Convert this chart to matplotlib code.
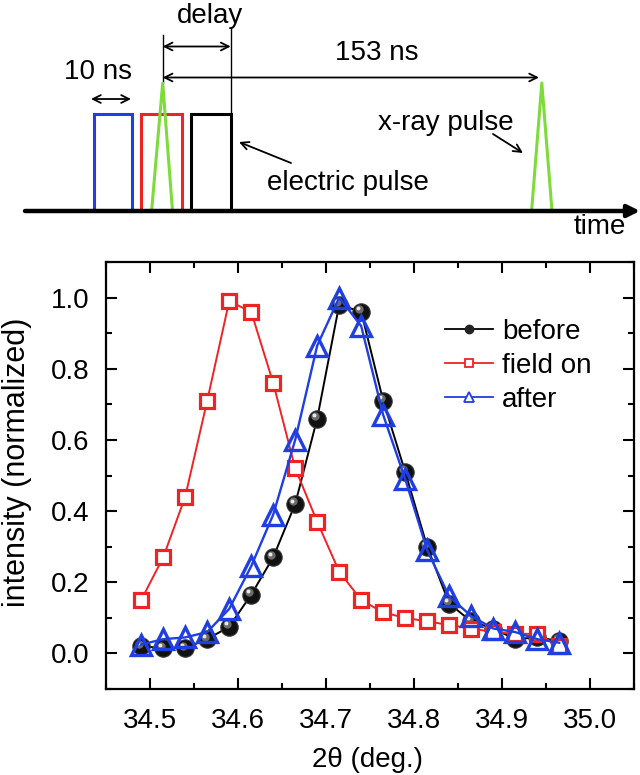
import matplotlib
matplotlib.use('Agg')
import matplotlib.pyplot as plt
from matplotlib.ticker import MultipleLocator, FormatStrFormatter
from matplotlib.lines import Line2D
import matplotlib.transforms as mtransforms

plt.rcParams['font.family'] = ['Liberation Sans', 'DejaVu Sans']

# ---------------- data ----------------
two_theta = [34.490, 34.515, 34.540, 34.565, 34.590, 34.615, 34.640, 34.665,
             34.690, 34.715, 34.740, 34.765, 34.790, 34.815, 34.840, 34.865,
             34.890, 34.915, 34.940, 34.965]
before = [0.02, 0.015, 0.015, 0.04, 0.075, 0.165, 0.27, 0.42, 0.66, 0.98,
          0.96, 0.71, 0.51, 0.30, 0.14, 0.09, 0.07, 0.04, 0.045, 0.035]
field_on = [0.15, 0.27, 0.44, 0.71, 0.99, 0.96, 0.76, 0.52, 0.37, 0.23,
            0.15, 0.115, 0.10, 0.09, 0.08, 0.07, 0.06, 0.055, 0.055, 0.02]
after = [0.025, 0.04, 0.045, 0.06, 0.125, 0.245, 0.39, 0.60, 0.865, 1.0,
         0.92, 0.67, 0.49, 0.29, 0.16, 0.105, 0.07, 0.06, 0.04, 0.03]
series_labels = ['before', 'field on', 'after']
x_ticks = [34.5, 34.6, 34.7, 34.8, 34.9, 35.0]
y_ticks = [0.0, 0.2, 0.4, 0.6, 0.8, 1.0]

RED = '#ee2424'
BLUE = '#1f3fe0'
GREEN = '#7ddc3c'
FS = 20

fig = plt.figure(figsize=(6.4, 7.75), dpi=100)

# ---------------- timing diagram (pixel coordinates) ----------------
axd = fig.add_axes([0, 1 - 240 / 775, 1, 240 / 775])
axd.set_xlim(0, 640)
axd.set_ylim(240, 0)
axd.axis('off')

base_y = 211
rect_top = 114
pulses = [(94, 132, BLUE), (141, 181.5, RED), (190.5, 230.5, 'black')]
for x0, x1, c in pulses:
    axd.plot([x0, x0, x1, x1], [base_y, rect_top, rect_top, base_y], color=c,
             lw=2.2, solid_joinstyle='miter', zorder=3)
xray = [(151.6, 162.7, 172.5), (531.6, 541.8, 552.0)]
for a, b, c in xray:
    axd.plot([a, b, c], [base_y, 83, base_y], color=GREEN, lw=2.2, zorder=4)

axd.annotate('', xy=(640, base_y), xytext=(25, base_y),
             arrowprops=dict(arrowstyle='-|>', lw=3.2, color='black',
                             mutation_scale=18, shrinkA=0, shrinkB=0), zorder=5)
axd.plot([230.7, 230.7], [28, rect_top], color='black', lw=1.0)
axd.plot([162.7, 162.7], [35, 83], color='black', lw=1.0)
arr = dict(arrowstyle='<->', lw=1.3, color='black', mutation_scale=14,
           shrinkA=0, shrinkB=0)
axd.annotate('', xy=(230.7, 46.5), xytext=(162.7, 46.5), arrowprops=arr)
axd.annotate('', xy=(539, 77.5), xytext=(162.7, 77.5), arrowprops=arr)
axd.annotate('', xy=(131, 99), xytext=(91, 99), arrowprops=arr)
arr1 = dict(arrowstyle='->', lw=1.3, color='black', mutation_scale=14,
            shrinkA=0, shrinkB=0)
axd.annotate('', xy=(239, 142), xytext=(291, 163), arrowprops=arr1)
axd.annotate('', xy=(523, 153), xytext=(493, 134), arrowprops=arr1)

axd.text(210, 16, 'delay', fontsize=FS, ha='center', va='center')
axd.text(377, 53, '153 ns', fontsize=FS, ha='center', va='center')
axd.text(98, 72, '10 ns', fontsize=FS, ha='center', va='center')
axd.text(348, 183, 'electric pulse', fontsize=FS, ha='center', va='center')
axd.text(446, 123, 'x-ray pulse', fontsize=FS, ha='center', va='center')
axd.text(600, 227, 'time', fontsize=FS, ha='center', va='center')

# ---------------- diffraction plot ----------------
ax = fig.add_axes([106 / 640, 1 - 689 / 775, (634 - 106) / 640, (689 - 262) / 775])

ax.plot(two_theta, before, color='black', lw=1.4, marker='o', ms=12.5,
        mfc='#111111', mec='#333333', mew=0.8, zorder=3)
# sphere highlight
off1 = mtransforms.offset_copy(ax.transData, fig=fig, x=-1.5, y=1.8, units='points')
off2 = mtransforms.offset_copy(ax.transData, fig=fig, x=-2.0, y=2.4, units='points')
ax.plot(two_theta, before, ls='none', marker='o', ms=6, mfc='#6a6a6a', mec='none',
        transform=off1, zorder=3.1)
ax.plot(two_theta, before, ls='none', marker='o', ms=2.8, mfc='#e8e8e8', mec='none',
        transform=off2, zorder=3.2)

ax.plot(two_theta, field_on, color=RED, lw=1.4, marker='s', ms=10, mfc='white',
        mec=RED, mew=2.3, zorder=4)
ax.plot(two_theta, after, color=BLUE, lw=1.7, marker='^', ms=14, mfc='none',
        mec=BLUE, mew=2.4, zorder=5)

ax.set_xlim(34.45, 35.05)
ax.set_ylim(-0.1, 1.1)
ax.set_xticks(x_ticks)
ax.set_yticks(y_ticks)
ax.xaxis.set_minor_locator(MultipleLocator(0.05))
ax.yaxis.set_minor_locator(MultipleLocator(0.1))
ax.xaxis.set_major_formatter(FormatStrFormatter('%.1f'))
ax.yaxis.set_major_formatter(FormatStrFormatter('%.1f'))
ax.tick_params(which='both', direction='in', top=True, right=True, width=1.5,
               labelsize=FS)
ax.tick_params(axis='x', which='major', pad=14)
ax.tick_params(axis='y', which='major', pad=12)
ax.tick_params(which='major', length=8)
ax.tick_params(which='minor', length=4.5)
for s in ax.spines.values():
    s.set_linewidth(1.6)
ax.set_xlabel('2θ (deg.)', fontsize=FS)
ax.set_ylabel('intensity (normalized)', fontsize=22)
ax.xaxis.set_label_coords(0.496, -0.136)
ax.yaxis.set_label_coords(-0.14, 0.532)

handles = [
    Line2D([], [], color='black', lw=1.3, marker='o', ms=6, mfc='#222222', mec='#222222'),
    Line2D([], [], color=RED, lw=1.3, marker='s', ms=5.5, mfc='white', mec=RED, mew=1.3),
    Line2D([], [], color=BLUE, lw=1.3, marker='^', ms=6.5, mfc='white', mec=BLUE, mew=1.3),
]
ax.legend(handles, series_labels, loc='upper left', bbox_to_anchor=(0.642, 0.866),
          frameon=False, fontsize=FS, handlelength=1.73, handletextpad=0.32,
          labelspacing=0.28, borderpad=0, borderaxespad=0)

fig.savefig('out.png', dpi=100)
